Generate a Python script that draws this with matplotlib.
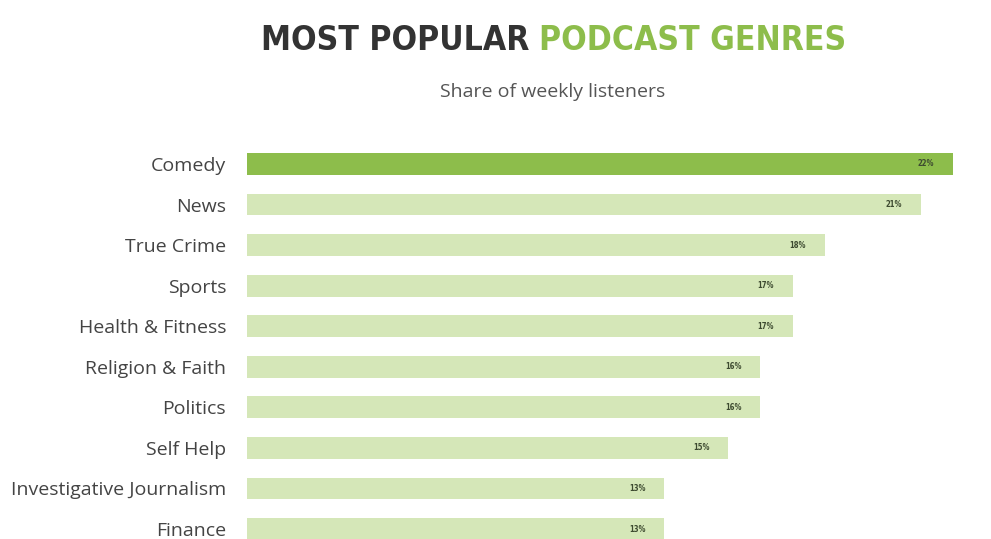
import matplotlib.pyplot as plt

genres = ["Comedy", "News", "True Crime", "Sports", "Health & Fitness",
          "Religion & Faith", "Politics", "Self Help",
          "Investigative Journalism", "Finance"]
shares = [22, 21, 18, 17, 17, 16, 16, 15, 13, 13]

DARK = "#8dbd4b"
LIGHT = "#d5e7b8"

fig = plt.figure(figsize=(9.91, 5.39), dpi=100)
ax = fig.add_axes([247 / 991, 1 - 549.3 / 539, 706 / 991, 0.7525])

colors = [DARK] + [LIGHT] * (len(genres) - 1)
ypos = list(range(len(genres)))
ax.barh(ypos, shares, height=0.54, color=colors)
ax.set_xlim(0, 22)
ax.set_ylim(9.5, -0.5)

ax.set_yticks(ypos)
ax.set_yticklabels(genres, fontsize=14, color="#444444", family="Open Sans")
ax.tick_params(axis="y", length=0, pad=15)
ax.set_xticks([])
for s in ax.spines.values():
    s.set_visible(False)

for y, v in zip(ypos, shares):
    ax.annotate(f"{v}%", (v, y), xytext=(-19.5, 0), textcoords="offset points",
                ha="center", va="center", fontsize=5.5, fontweight="bold",
                color="#3d4a30", fontstretch="condensed")

# title in two colours, sized so that it spans about the same width
t1 = fig.text(528 / 991, 1 - 40 / 539, "MOST POPULAR", ha="right", va="center",
              fontsize=35, fontweight="bold", color="#333333", fontstretch="condensed")
t2 = fig.text(540 / 991, 1 - 40 / 539, "PODCAST GENRES", ha="left", va="center",
              fontsize=35, fontweight="bold", color=DARK, fontstretch="condensed")
r = fig.canvas.get_renderer()
w1 = t1.get_window_extent(r).width
w2 = t2.get_window_extent(r).width
scale = 575 / (w1 + w2)
t1.set_fontsize(35 * scale)
t2.set_fontsize(35 * scale)
mid = 262 + 583 * w1 / (w1 + w2)
t1.set_x((mid - 5) / 991)
t2.set_x((mid + 5) / 991)

fig.text(553 / 991, 1 - 92 / 539, "Share of weekly listeners", ha="center",
         va="center", fontsize=14, color="#555555", family="Open Sans")

fig.savefig("out.png", dpi=100)
